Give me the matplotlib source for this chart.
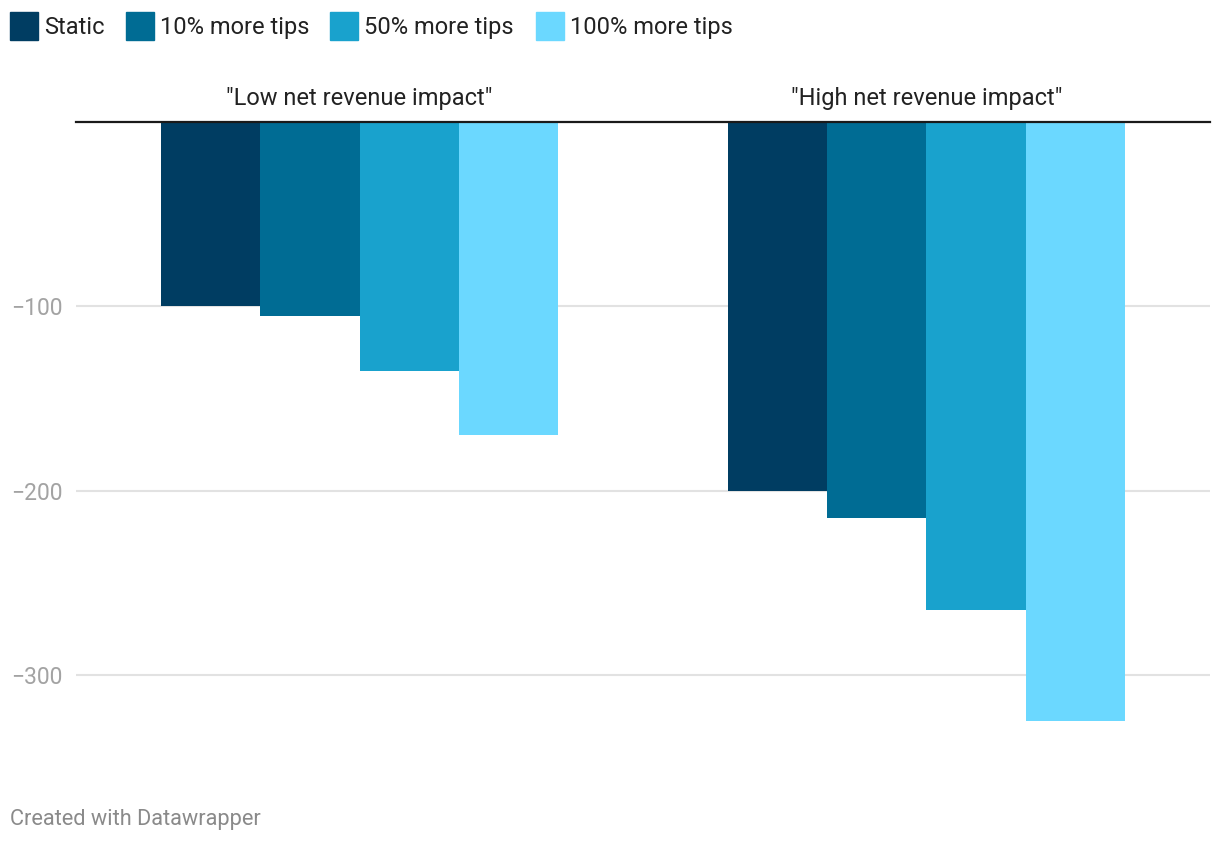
import numpy as np
import matplotlib.pyplot as plt
from matplotlib.patches import Rectangle
import matplotlib.transforms as mtransforms

plt.rcParams['font.family'] = ['Roboto', 'DejaVu Sans']

groups = ['"Low net revenue impact"', '"High net revenue impact"']
series = ['Static', '10% more tips', '50% more tips', '100% more tips']
values = {
    'Static': [-100, -200],
    '10% more tips': [-105, -215],
    '50% more tips': [-135, -265],
    '100% more tips': [-170, -325],
}
colors = ['#003d62', '#006c94', '#19a2cd', '#6bd8ff']
yticks = [-100, -200, -300]
ytick_labels = ['\u2212100', '\u2212200', '\u2212300']

W, H = 1220, 844
fig = plt.figure(figsize=(W / 100, H / 100), dpi=100)
# axes placed in pixel units: left 76, right 1210, top 122, bottom 767
ax = fig.add_axes([76 / W, 1 - 767 / H, (1210 - 76) / W, (767 - 122) / H])

x = np.arange(len(groups))
bw = 0.175
for i, s in enumerate(series):
    ax.bar(x + (i - 1.5) * bw, values[s], width=bw, color=colors[i], zorder=3)

ax.set_xlim(-0.5, 1.5)
ax.set_ylim(-350, 0)
ax.set_yticks(yticks)
ax.set_yticklabels(ytick_labels)
ax.tick_params(axis='y', length=0, pad=9.5, labelsize=16.5, labelcolor='#a3a3a3')
ax.set_xticks([])
for sp in ax.spines.values():
    sp.set_visible(False)
for t in yticks:
    ax.axhline(t, color='#e2e2e2', lw=1.5, zorder=1)

# zero baseline
ax.axhline(0, color='#1a1a1a', lw=1.6, zorder=4, clip_on=False)

# group headers
trans = mtransforms.blended_transform_factory(ax.transData, fig.transFigure)
for xi, g in zip(x, groups):
    ax.text(xi, 1 - 99 / H, g, transform=trans, ha='center', va='center', fontsize=17, color='#222222')

# legend
sq_x = [10, 126, 330, 536]
for i, s in enumerate(series):
    fig.add_artist(Rectangle((sq_x[i] / W, 1 - 40 / H), 28 / W, 28 / H, color=colors[i]))
    fig.text((sq_x[i] + 34) / W, 1 - 27.5 / H, s, ha='left', va='center', fontsize=17, color='#222222')

fig.text(10 / W, 1 - 820 / H, 'Created with Datawrapper', ha='left', va='center', fontsize=15.7, color='#8a8a8a')

fig.savefig('out.png', dpi=100)
